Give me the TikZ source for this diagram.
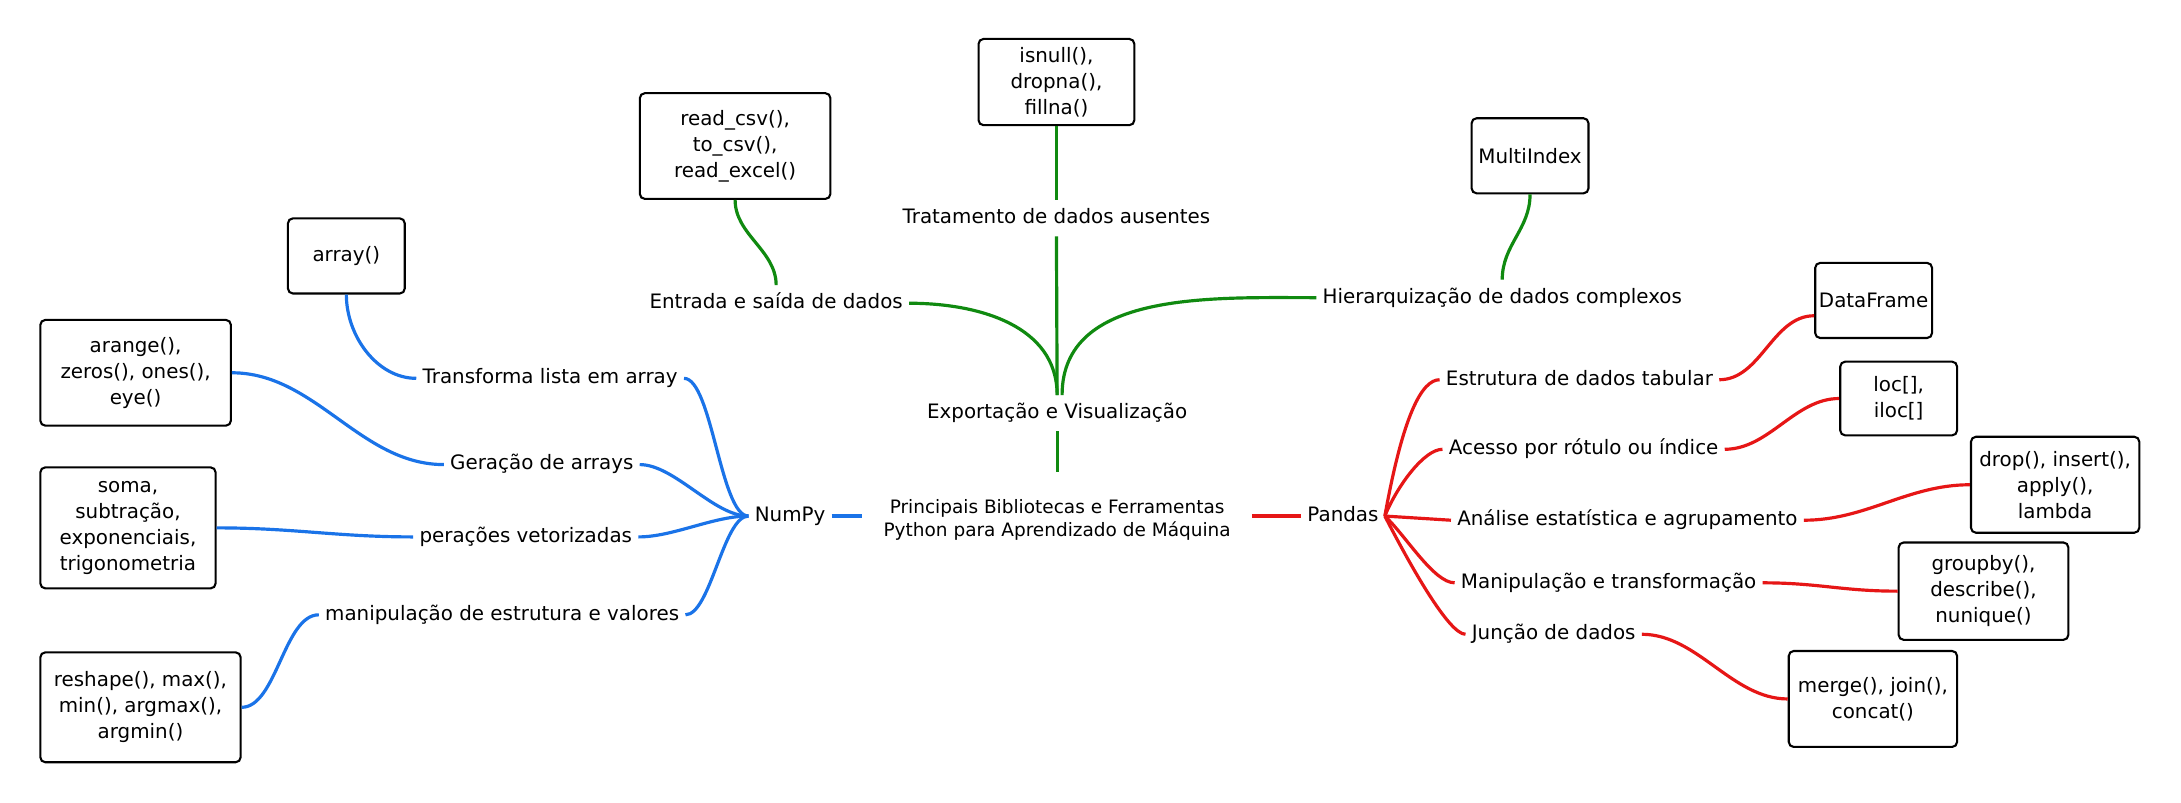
\documentclass[tikz,border=0pt]{standalone}
\usepackage{fontspec}
\setmainfont{DejaVu Sans}
\definecolor{cblue}{RGB}{26,115,232}
\definecolor{cgreen}{RGB}{16,138,16}
\definecolor{cred}{RGB}{230,22,22}
\begin{document}
\begin{tikzpicture}[x=0.7pt,y=-0.7pt,
  lbl/.style={inner xsep=3pt, inner ysep=4pt, text height=7.6pt, text depth=2.2pt, font=\fontsize{10}{12}\selectfont},
  box/.style={draw=black, line width=1.05pt, rounded corners=2.5pt, align=center, inner sep=1pt, font=\fontsize{10}{13.1}\selectfont},
  con/.style={line width=1.6pt},
  bl/.style={con, draw=cblue},
  gr/.style={con, draw=cgreen},
  rd/.style={con, draw=cred}]
\fill[white] (0,0) rectangle (1568,577);
\useasboundingbox (0,0) rectangle (1568,577);

% central
\node[font=\fontsize{9.3}{11.2}\selectfont, align=center, inner xsep=10.5pt, inner ysep=14pt, anchor=north] (central) at (760,339)
  {Principais Bibliotecas e Ferramentas\\Python para Aprendizado de Máquina};

% ---------- NumPy ----------
\node[lbl] (numpy) at (568,371) {NumPy};
\node[lbl] (l_trans) at (395.5,272) {Transforma lista em array};
\node[lbl] (l_ger) at (389.5,334) {Geração de arrays};
\node[lbl] (l_op) at (378,386) {perações vetorizadas};
\node[lbl] (l_man) at (361,442) {manipulação de estrutura e valores};

\node[box, minimum width=58.8pt, minimum height=37.8pt] (b_array) at (249,184) {array()};
\node[box, minimum width=95.9pt, minimum height=53.2pt] (b_arange) at (97.5,268) {arange(),\\zeros(), ones(),\\eye()};
\node[box, minimum width=88.2pt, minimum height=60.9pt] (b_soma) at (92,379.5) {soma,\\subtração,\\exponenciais,\\trigonometria};
\node[box, minimum width=100.8pt, minimum height=55.3pt] (b_reshape) at (101,508.5) {reshape(), max(),\\min(), argmax(),\\argmin()};

\draw[bl] (numpy.east) -- (numpy.east -| central.west);
\draw[bl] (l_trans.east) .. controls +(20,0) and +(-20,0) .. (numpy.west);
\draw[bl] (l_ger.east) .. controls +(25,0) and +(-25,0) .. (numpy.west);
\draw[bl] (l_op.east) .. controls +(25,0) and +(-25,0) .. (numpy.west);
\draw[bl] (l_man.east) .. controls +(18,0) and +(-18,0) .. (numpy.west);
\draw[bl] (b_array.south) .. controls +(0,30) and +(-28,0) .. (l_trans.west);
\draw[bl] (b_arange.east) .. controls +(60,0) and +(-60,0) .. (l_ger.west);
\draw[bl] (b_soma.east) .. controls +(55,0) and +(-55,0) .. (l_op.west);
\draw[bl] (b_reshape.east) .. controls +(25,0) and +(-25,0) .. (l_man.west);

% ---------- Exportação ----------
\node[lbl] (l_exp) at (760,297) {Exportação e Visualização};
\node[lbl] (l_trat) at (759.5,157) {Tratamento de dados ausentes};
\node[lbl] (l_ent) at (558,218) {Entrada e saída de dados};
\node[lbl] (l_hier) at (1080,214) {Hierarquização de dados complexos};

\node[box, minimum width=78.4pt, minimum height=43.4pt] (b_isnull) at (759.5,59) {isnull(),\\dropna(),\\fillna()};
\node[box, minimum width=95.9pt, minimum height=53.2pt] (b_read) at (528.5,105) {read\_csv(),\\to\_csv(),\\read\_excel()};
\node[box, minimum width=58.8pt, minimum height=37.8pt] (b_multi) at (1100,112) {MultiIndex};

\draw[gr] (l_exp.south) -- (central.north);
\draw[gr] (l_exp.north) -- (l_trat.south);
\draw[gr] (l_exp.north) .. controls +(0,-50) and +(50,0) .. (l_ent.east);
\draw[gr] ([xshift=2.5pt]l_exp.north) .. controls +(0,-75) and +(-75,0) .. (l_hier.west);
\draw[gr] (b_isnull.south) -- (l_trat.north);
\draw[gr] (b_read.south) .. controls +(0,25) and +(0,-25) .. (l_ent.north);
\draw[gr] (b_multi.south) .. controls +(0,25) and +(0,-25) .. (l_hier.north);

% ---------- Pandas ----------
\node[lbl] (pandas) at (965.5,371) {Pandas};
\node[lbl] (l_est) at (1135.5,273) {Estrutura de dados tabular};
\node[lbl] (l_ace) at (1138.5,323) {Acesso por rótulo ou índice};
\node[lbl] (l_ana) at (1170,374) {Análise estatística e agrupamento};
\node[lbl] (l_mpt) at (1156.5,419) {Manipulação e transformação};
\node[lbl] (l_jun) at (1117,456) {Junção de dados};

\node[box, minimum width=58.8pt, minimum height=37.8pt] (b_df) at (1347,216) {DataFrame};
\node[box, minimum width=58.8pt, minimum height=37.1pt] (b_loc) at (1365,286.5) {loc[],\\iloc[]};
\node[box, minimum width=84.7pt, minimum height=48.3pt] (b_drop) at (1477.5,348.5) {drop(), insert(),\\apply(),\\lambda};
\node[box, minimum width=85.4pt, minimum height=49pt] (b_groupby) at (1426,425) {groupby(),\\describe(),\\nunique()};
\node[box, minimum width=84.7pt, minimum height=48.3pt] (b_merge) at (1346.5,502.5) {merge(), join(),\\concat()};

\draw[rd] (central.east |- pandas.west) -- (pandas.west);
\draw[rd] (pandas.east) .. controls +(13,-72) and +(-13,0) .. (l_est.west);
\draw[rd] (pandas.east) .. controls +(9,-22) and +(-13,0) .. (l_ace.west);
\draw[rd] (pandas.east) -- (l_ana.west);
\draw[rd] (pandas.east) .. controls +(15,14) and +(-15,0) .. (l_mpt.west);
\draw[rd] (pandas.east) .. controls +(18,35) and +(-12,0) .. (l_jun.west);
\draw[rd] (l_est.east) .. controls +(30,0) and +(-30,0) .. ([yshift=-7.7pt]b_df.west);
\draw[rd] (l_ace.east) .. controls +(32,0) and +(-32,0) .. (b_loc.west);
\draw[rd] (l_ana.east) .. controls +(45,0) and +(-45,0) .. (b_drop.west);
\draw[rd] (l_mpt.east) .. controls +(40,0) and +(-40,0) .. (b_groupby.west);
\draw[rd] (l_jun.east) .. controls +(40,0) and +(-40,0) .. (b_merge.west);
\end{tikzpicture}
\end{document}
